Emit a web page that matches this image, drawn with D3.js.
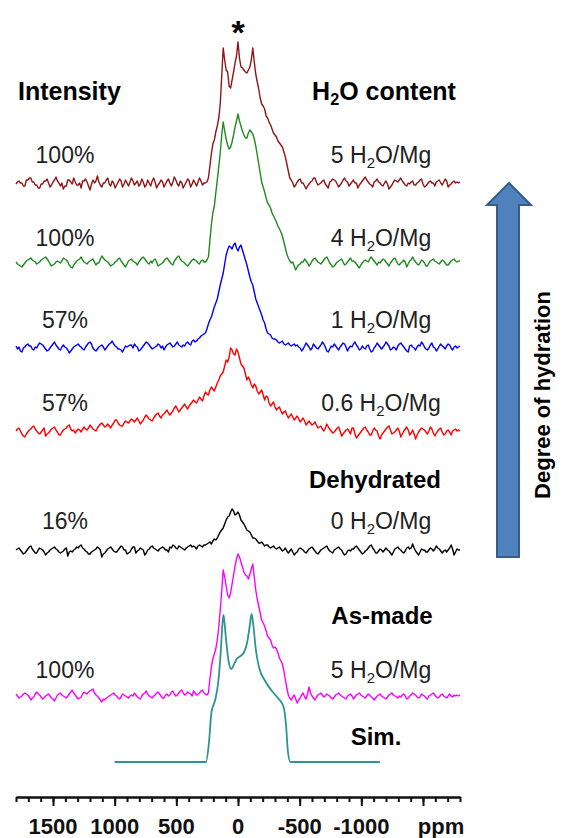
<!DOCTYPE html>
<html><head><meta charset="utf-8">
<script src="https://cdnjs.cloudflare.com/ajax/libs/d3/7.8.5/d3.min.js"></script>
<style>html,body{margin:0;padding:0;background:#fff}svg{display:block}</style>
</head><body>
<script>
// ---------------- DATA ----------------
const ppmGrid = d3.range(1800, -1801, -12);   // shared chemical-shift sampling (ppm), 301 points
const seriesColors = ["#8e1616", "#1f8a1f", "#0000ff", "#ff0000", "#000000", "#ff00ff"];
const seriesOffsets = [616, 537, 452, 368, 249, 103];
const intensityLabels = ["100%", "100%", "57%", "57%", "16%", "100%"];
const contentMain = ["5 H", "4 H", "1 H", "0.6 H", "0 H", "5 H"];

const brown = [
 0,2,3,1,1,-2,-2,4,4,6, 6,2,2,-1,-1,-4,-4,0,0,3, 3,5,1,-3,-1,2,4,7,3,1, -2,1,-5,-2,-2,4,4,2,0,6,
 2,-1,-1,1,-4,3,3,5,2,-2, -6,0,4,1,3,8,2,-1,-3,1, 1,4,6,0,-2,3,1,-4,-1,2, 5,3,-3,0,4,1,-2,2,6,3,
 -1,1,3,-2,0,5,2,-3,-1,4, 1,-2,3,6,2,-4,-1,1,4,2, -3,0,3,5,1,-2,2,7,4,0, -2,3,1,-4,-1,2,5,3,-3,0,
 4,1,-2,2,6,3,-1,1,
 1,2,6,18,30,40,44,52,58,66, 80,108,136,124,114,112,98,96,104,112, 121,128,142,126,117,116,114,112,111,114,
 117,124,136,122,110,102,95,86,80,78, 75,68,66,62,59,55,51,49,47,43, 41,39,37,32,27,20,13,6,4,1,
 -3,-1,2,4,5,1,1,-2,-5,-2, 0,2,3,6,6,2,-1,0,1,3, 4,0,-2,-4,2,3,5,4,3,0, -3,-1,1,4,6,3,2,-2,0,2,
 4,1,1,-4,-1,1,3,5,7,4, 2,0,-1,-3,2,3,5,2,1,-1, -2,1,3,0,-5,-3,-1,2,4,3, 2,4,6,3,1,-1,-2,1,0,2,
 3,-1,-1,1,2,4,5,0,-3,-2, 0,2,3,1,1,-2,2,3,4,1, -1,2,5,3,-3,-1,0,2,3,1, 2,1,2];
const green = [
 1,-1,-2,-3,-4,-2,0,2,3,4, 5,3,2,1,-1,0,1,3,4,5, 6,4,2,-1,-3,-2,-1,1,2,1, 0,2,5,4,3,1,-2,-4,-5,-2,
 0,2,3,4,6,3,1,0,-1,1, 2,3,4,1,-2,0,0,4,7,5, 3,2,1,-1,-3,-2,-1,1,2,4, 5,2,0,-2,-4,-1,2,3,4,2,
 1,0,-2,1,3,5,6,4,2,0, -1,2,0,3,4,1,-3,-2,-1,0, 2,4,5,3,1,-1,-2,2,4,6, 7,4,2,1,0,-2,-3,-1,1,3,
 4,3,2,0,-1,2,3,1,
 1,3,6,22,38,50,57,70,83,96, 110,128,141,132,124,118,114,116,121,128, 136,142,149,142,137,132,128,125,125,130,
 133,131,129,124,117,108,99,90,81,76, 71,65,60,58,55,50,47,44,41,37, 34,31,27,21,15,9,5,2,0,1,
 -3,-7,-4,-2,-1,1,1,4,2,0, -3,-1,2,4,5,3,1,0,-1,1, 3,5,6,3,0,-2,-4,-3,-1,1, 2,3,4,1,-2,-1,1,3,5,2,
 2,1,-1,-3,-5,-2,0,2,3,2, 1,4,6,4,2,0,-2,1,0,2, 4,3,1,-1,-3,0,2,4,5,2, -1,-2,0,1,3,1,-4,-1,2,3,
 6,3,1,-1,-2,0,3,2,0,-3, -3,0,2,3,4,2,1,0,-1,1, 3,2,0,-2,-2,0,2,3,4,2, 1,2,2];
const blue = [
 2,-1,1,-3,-4,0,1,3,4,2, 2,-1,-2,1,0,3,5,4,3,1, -1,-3,-2,0,2,4,6,3,1,-1, -2,1,3,1,0,-2,-5,-3,-1,1,
 2,3,4,2,1,-1,-2,1,3,5, 6,4,0,-2,-3,-1,1,2,3,1, -2,0,2,4,5,7,4,2,1,-1, -1,-2,-4,-1,2,1,2,3,3,0,
 4,2,1,-3,-2,0,2,4,6,5, 3,1,-1,0,1,2,4,3,0,2, -2,1,3,4,5,3,1,2,4,6, 3,2,1,3,2,5,6,4,3,7,
 8,6,7,9,10,12,13,14,
 15,19,24,28,31,36,41,45,49,56, 63,69,75,84,93,98,102,101,99,103, 105,100,97,101,103,98,93,88,83,77,
 71,66,63,56,49,45,41,37,33,28, 25,19,15,14,13,10,9,9,8,6, 5,6,7,4,3,4,5,3,2,3,
 4,2,3,1,0,-3,-1,2,5,3, 1,-2,0,4,2,0,-1,1,3,6, 4,1,-3,-4,-1,2,1,4,2,0, -2,1,3,5,4,1,-3,0,2,1,
 4,6,3,1,-2,-1,2,0,-1,2, 3,-1,-4,-3,0,2,5,3,1,-1, 1,3,6,4,2,-2,-1,1,0,-2, 2,4,5,3,1,-1,-3,-4,2,3,
 1,0,-2,1,3,2,6,4,1,-1, -2,0,3,5,1,0,-3,-1,2,4, 2,1,-1,2,4,3,0,-2,1,2, 0,1,2];
const red = [
 1,3,4,1,-2,-4,-5,-2,0,2, 3,5,6,3,1,-1,-2,0,2,4, -4,-2,-1,1,3,4,5,2,0,-3, -3,0,2,3,4,6,7,3,1,2,
 -1,1,3,2,0,3,5,3,2,4, 7,5,3,2,1,4,6,8,9,7, 5,6,8,6,4,7,9,12,12,9, 7,6,6,9,11,10,9,11,13,12,
 10,12,14,11,8,10,12,15,17,15, 13,12,11,14,16,18,19,16,14,17, 18,20,22,19,17,19,21,24,26,23, 20,22,24,26,28,25,23,26,28,30,
 32,30,29,32,35,33,31,36,
 40,38,37,42,45,43,41,45,49,52, 56,58,60,66,72,70,75,84,82,78, 77,83,80,74,68,66,64,58,52,55,
 52,47,44,48,46,41,38,40,42,37, 32,36,35,29,26,28,30,25,22,24, 25,21,18,20,21,17,14,16,18,15,
 12,14,16,13,10,12,14,11,7,9, 11,9,7,8,10,7,4,5,6,3, 1,4,8,5,3,1,-1,0,2,4, 5,1,-4,-2,0,2,3,1,-2,4,
 4,-2,-6,-4,-2,0,2,4,5,2, 0,-3,-3,1,4,2,1,-4,-7,-3, -1,1,3,5,6,2,-2,-1,0,2, 4,1,-5,-2,1,3,5,2,-3,-1,
 2,-2,-7,-3,0,2,4,3,2,0, -2,1,5,3,-1,-4,-1,1,3,4, 0,-3,-2,1,2,0,-3,1,2,3, 1,2,1];
const black = [
 1,2,3,1,-1,-3,-2,0,2,4, 5,2,0,-2,-2,1,3,2,1,-1, -4,-2,-1,1,2,3,4,2,1,-1, -2,-1,0,2,3,-5,-1,0,-1,1,
 2,4,3,5,6,3,2,0,-1,-3, -3,-1,0,1,2,4,3,1,-6,-3, -2,0,2,3,4,2,0,-1,-1,1, 3,5,4,1,1,-3,-2,-1,2,4,
 4,-2,0,1,3,2,1,-4,-2,1, 2,4,5,3,2,1,0,2,3,4, 3,1,1,-1,4,3,6,5,3,2, 5,4,3,2,1,3,4,5,6,4,
 5,4,2,5,6,5,4,6,
 6,7,8,9,7,10,12,11,13,16, 19,21,23,27,31,34,35,39,42,40, 36,37,39,36,31,29,27,24,21,20,
 19,16,13,13,12,10,8,8,9,7, 5,6,6,4,3,4,5,3,2,3, 4,2,0,1,3,0,-2,0,2,-1,
 -4,-2,-1,2,3,2,1,-1,-2,0, 2,3,4,2,0,-2,-3,-1,1,2, 3,4,5,2,0,-1,-2,1,2,3, 4,2,1,-2,-4,-3,0,1,0,2,
 2,4,5,3,1,-1,-3,-2,0,1, 3,5,6,3,1,-2,-2,0,2,1, -1,1,3,1,0,-2,-4,-1,2,3, 4,2,1,-1,-2,0,3,4,2,3,
 7,3,0,-2,-4,-1,2,1,1,-1, -1,1,3,2,0,2,5,3,2,0, -2,0,1,-1,1,3,6,2,-4,-1, 2,1,1];
const magenta = [
 3,1,-1,0,1,3,4,3,2,0, -3,-1,0,3,5,3,2,0,-2,-1, 1,2,3,1,-1,-2,-4,-1,2,3, 4,2,1,0,-1,1,3,5,7,4,
 2,0,-2,-1,0,3,5,4,3,5, 6,7,8,4,2,1,-1,-3,-5,-2, -3,-1,0,1,2,3,4,2,1,-1, -2,0,3,2,1,0,-1,1,2,1,
 4,2,0,-1,-2,1,3,4,6,3, 1,0,-1,1,2,4,5,3,1,-1, -1,2,3,1,2,5,6,3,1,2, 4,6,7,4,2,3,5,4,3,1,
 6,4,2,3,4,6,7,4,
 3,2,4,18,30,38,43,48,57,70, 87,106,127,120,111,102,99,104,113,122, 131,138,143,140,135,130,125,122,121,118,
 123,128,133,120,107,98,91,84,77,74, 71,66,61,59,57,52,49,50,48,44, 39,36,33,26,17,9,2,-1,-3,0,
 2,-2,-6,-3,-1,2,4,0,-2,3, 10,4,1,-1,-3,0,2,3,4,2, 0,1,3,2,1,-1,-2,0,2,3, 4,2,1,0,-1,-2,1,2,3,1,
 -2,0,2,3,4,2,1,0,-1,1, 3,2,0,-1,-3,-1,1,2,3,1, 0,-1,-2,0,2,3,4,2,1,0, -1,1,0,2,3,1,-2,-1,1,2,
 4,3,2,0,-1,0,3,2,1,-1, -2,1,2,3,4,2,0,-1,0,2, 3,1,0,-1,1,3,1,0,2,1, 2,1,2];
const seriesValues = [brown, green, blue, red, black, magenta];

// simulated line shape
const simPpm = [1000, 260, 235, 215, 185, 160, 140, 125, 118, 110, 95, 75, 55, 35, 10, -20, -50, -75, -95, -110, -125, -145, -170, -220, -275, -330, -370, -390, -405, -425, -1150];
const simVal = [0, 0, 20, 50, 62, 80, 110, 140, 147, 140, 120, 100, 93, 97, 103, 106, 110, 120, 136, 148, 136, 112, 95, 81, 71, 63, 55, 36, 10, 0, 0];
const simOffset = 38;
const simColor = "#2e9393";

const majorTicks = [1500, 1000, 500, 0, -500, -1000, -1500];
const tickLabels = ["1500", "1000", "500", "0", "-500", "-1000", "ppm"];

// ---------------- CHART ----------------
const W = 563, H = 838;
const FONT = "'Liberation Sans', Arial, sans-serif";
const svg = d3.select("body").append("svg").attr("width", W).attr("height", H)
  .style("font-family", FONT);

const x = d3.scaleLinear().domain([1800, -1800]).range([16, 460]);
const y = d3.scaleLinear().domain([0, 800]).range([800, 0]);

const line = (off) => d3.line()
  .x(d => x(d[0]))
  .y(d => y(off + d[1]));

seriesValues.forEach((vals, k) => {
  const n = Math.min(vals.length, ppmGrid.length);
  const pts = vals.slice(0, n).map((v, i) => [ppmGrid[i], v]);
  svg.append("path")
    .datum(pts)
    .attr("fill", "none")
    .attr("stroke", seriesColors[k])
    .attr("stroke-width", 1.4)
    .attr("stroke-linejoin", "round")
    .attr("d", line(seriesOffsets[k]));
});

svg.append("path")
  .datum(simPpm.map((p, i) => [p, simVal[i]]))
  .attr("fill", "none")
  .attr("stroke", simColor)
  .attr("stroke-width", 1.8)
  .attr("d", line(simOffset).curve(d3.curveMonotoneX));

// axis
const axisY = 797;
const gMinor = svg.append("g").attr("transform", `translate(0,${axisY})`)
  .call(d3.axisBottom(x).tickValues(d3.range(-1800, 1801, 100)).tickSize(5).tickSizeOuter(0).tickFormat(""));
const gMajor = svg.append("g").attr("transform", `translate(0,${axisY})`)
  .call(d3.axisBottom(x).tickValues(majorTicks).tickSize(9).tickSizeOuter(0).tickFormat(""));
[gMinor, gMajor].forEach(g => {
  g.selectAll("line").attr("stroke", "#111").attr("stroke-width", 2);
  g.select(".domain").attr("stroke", "#111").attr("stroke-width", 2.2);
});
svg.append("g").selectAll("text").data(majorTicks).join("text")
  .attr("x", (d, i) => x(d) + (i === majorTicks.length - 1 ? 18 : 0))
  .attr("y", 834)
  .attr("text-anchor", "middle")
  .attr("font-size", 22).attr("font-weight", "bold").attr("fill", "#111")
  .text((d, i) => tickLabels[i]);

// headers
svg.append("text").attr("x", x(0)).attr("y", 44).attr("text-anchor", "middle")
  .attr("font-size", 34).attr("font-weight", "bold").text("*");
svg.append("text").attr("x", 18).attr("y", 100).attr("font-size", 25).attr("font-weight", "bold").text("Intensity");

function h2o(sel, pre, post) {
  sel.append("tspan").text(pre);
  sel.append("tspan").attr("dy", 5).attr("font-size", "0.65em").text("2");
  sel.append("tspan").attr("dy", -5).text(post);
}
h2o(svg.append("text").attr("x", 384).attr("y", 100).attr("text-anchor", "middle")
  .attr("font-size", 25).attr("font-weight", "bold"), "H", "O content");

// per-series labels
const labelBase = [163, 246, 328, 411, 529, 678];
intensityLabels.forEach((t, k) => {
  svg.append("text").attr("x", 65).attr("y", labelBase[k]).attr("text-anchor", "middle")
    .attr("font-size", 23).attr("fill", "#222").text(t);
  h2o(svg.append("text").attr("x", 381).attr("y", labelBase[k]).attr("text-anchor", "middle")
    .attr("font-size", 23).attr("fill", "#222"), contentMain[k], "O/Mg");
});
[["Dehydrated", 488, 375], ["As-made", 624, 382], ["Sim.", 745, 376]].forEach(([t, yy, xx]) => {
  svg.append("text").attr("x", xx).attr("y", yy).attr("text-anchor", "middle")
    .attr("font-size", 24).attr("font-weight", "bold").text(t);
});

// arrow
svg.append("path")
  .attr("d", "M509,183 L531,205 L519,205 L519,557 L497,557 L497,205 L487,205 Z")
  .attr("fill", "#4f81bd").attr("stroke", "#385d8a").attr("stroke-width", 2);
svg.append("text")
  .attr("transform", "translate(550,395) rotate(-90)")
  .attr("text-anchor", "middle").attr("font-size", 22).attr("font-weight", "bold")
  .text("Degree of hydration");
</script>
</body></html>
